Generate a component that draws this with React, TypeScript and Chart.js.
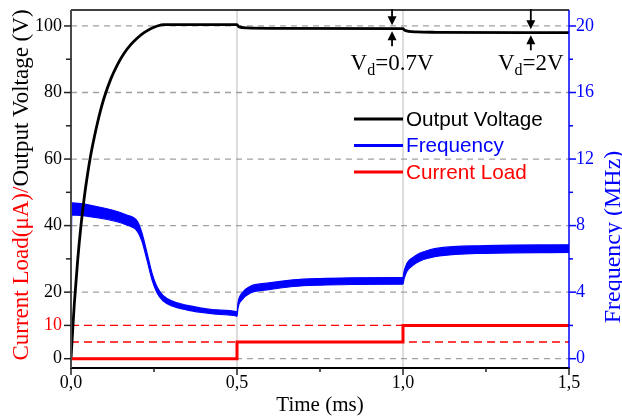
import React, { useEffect, useRef } from 'react';
import { Chart, registerables } from 'chart.js';

Chart.register(...registerables);

const SERIF = '"Liberation Serif", "Times New Roman", serif';
const SANS = '"Liberation Sans", Arial, sans-serif';

// ---- data (time in ms) ----
const voltTime = [0, 0.005, 0.01, 0.02, 0.03, 0.04, 0.05, 0.06, 0.07, 0.08, 0.09, 0.1, 0.12, 0.14, 0.16, 0.18, 0.2, 0.22, 0.24, 0.26, 0.28, 0.32, 0.5, 0.505, 0.53, 0.6, 1.0, 1.005, 1.04, 1.1, 1.5];
const voltage = [0, 8.5, 16.5, 29.5, 40, 48.5, 55.5, 61.5, 66.5, 71, 75, 78.5, 84.1, 88.4, 91.8, 94.4, 96.4, 98.0, 99.2, 100.0, 100.4, 100.4, 100.4, 99.8, 99.4, 99.3, 99.2, 98.7, 98.2, 98.1, 98.0];

const freqTime = [0, 0.002, 0.066, 0.168, 0.2, 0.213, 0.229, 0.244, 0.259, 0.277, 0.307, 0.367, 0.44, 0.497, 0.5, 0.503, 0.515, 0.539, 0.59, 0.669, 0.75, 0.85, 0.997, 1.0, 1.003, 1.012, 1.03, 1.05, 1.08, 1.11, 1.23, 1.5];
const freqUpper = [0, 9.36, 9.19, 8.64, 8.25, 7.6, 6.36, 5.14, 4.32, 3.8, 3.45, 3.14, 2.93, 2.83, 2.75, 3.35, 3.94, 4.34, 4.54, 4.74, 4.82, 4.86, 4.88, 4.88, 5.22, 5.74, 6.09, 6.34, 6.54, 6.66, 6.79, 6.85];
const freqLower = [0, 8.64, 8.51, 8.04, 7.65, 7.1, 5.92, 4.74, 3.96, 3.48, 3.15, 2.86, 2.67, 2.57, 2.55, 3.05, 3.54, 3.94, 4.14, 4.34, 4.42, 4.46, 4.48, 4.48, 4.78, 5.26, 5.61, 5.86, 6.06, 6.18, 6.33, 6.39];

const loadTime = [0, 0.5, 0.5, 1.0, 1.0, 1.5];
const loadValues = [0, 0, 5, 5, 10, 10];

const xTicks = [0, 0.5, 1.0, 1.5];
const xMinorTicks = [0.25, 0.75, 1.25];
const leftTicks = [0, 10, 20, 40, 60, 80, 100];
const leftMinorTicks = [30, 50, 70, 90];
const rightTicks = [0, 4, 8, 12, 16, 20];
const rightMinorTicks = [2, 6, 10, 14, 18];

const grayGrid = [0, 20, 40, 60, 80, 100];
const redGrid = [5, 10];
const vGrid = [0.5, 1.0];

const annotTime = [0.967, 1.385];
const annotVoltage = [99.3, 98.1];
const annotText = ['=0.7V', '=2V'];

const legendLabels = ['Output Voltage', 'Frequency', 'Current Load'];

const RED = '#ff0000';
const BLUE = '#0000ff';

function seg(ctx: CanvasRenderingContext2D, x1: number, y1: number, x2: number, y2: number) {
  ctx.beginPath();
  ctx.moveTo(x1, y1);
  ctx.lineTo(x2, y2);
  ctx.stroke();
}

function arrow(ctx: CanvasRenderingContext2D, x: number, yFrom: number, yTip: number) {
  const dir = yTip > yFrom ? 1 : -1;
  ctx.lineWidth = 1.8;
  seg(ctx, x, yFrom, x, yTip - dir * 6);
  ctx.beginPath();
  ctx.moveTo(x, yTip);
  ctx.lineTo(x - 4.5, yTip - dir * 9);
  ctx.lineTo(x + 4.5, yTip - dir * 9);
  ctx.closePath();
  ctx.fill();
}

const decorPlugin = {
  id: 'decor',
  beforeDatasetsDraw(chart: any) {
    const { ctx, chartArea: a, scales } = chart;
    const x = scales.x;
    const y = scales.y;
    ctx.save();
    ctx.strokeStyle = '#d2d2d2';
    ctx.lineWidth = 1.5;
    vGrid.forEach((t) => {
      const px = x.getPixelForValue(t);
      seg(ctx, px, a.top, px, a.bottom);
    });
    ctx.setLineDash([6, 5]);
    ctx.strokeStyle = '#a0a0a0';
    ctx.lineWidth = 1.3;
    grayGrid.forEach((v) => {
      const py = y.getPixelForValue(v);
      seg(ctx, a.left, py, a.right, py);
    });
    ctx.setLineDash([8, 5]);
    ctx.strokeStyle = RED;
    ctx.lineWidth = 1.4;
    redGrid.forEach((v) => {
      const py = y.getPixelForValue(v);
      seg(ctx, a.left, py, a.right, py);
    });
    ctx.restore();
  },
  afterDatasetsDraw(chart: any) {
    const { ctx, chartArea: a, scales } = chart;
    const x = scales.x;
    const y = scales.y;
    const y2 = scales.y2;
    ctx.save();
    ctx.setLineDash([]);
    // frame
    ctx.strokeStyle = '#000';
    ctx.lineWidth = 1.5;
    seg(ctx, a.left, a.top, a.right, a.top);
    ctx.lineWidth = 2;
    seg(ctx, a.left - 1, a.bottom, a.right + 1, a.bottom);
    ctx.strokeStyle = '#4a4a4a';
    seg(ctx, a.left, a.top, a.left, a.bottom);
    ctx.strokeStyle = BLUE;
    ctx.lineWidth = 1.5;
    seg(ctx, a.right, a.top, a.right, a.bottom);

    // ticks
    ctx.strokeStyle = '#222';
    ctx.lineWidth = 1.5;
    xTicks.forEach((t) => {
      const px = x.getPixelForValue(t);
      seg(ctx, px, a.bottom, px, a.bottom + 7);
    });
    xMinorTicks.forEach((t) => {
      const px = x.getPixelForValue(t);
      seg(ctx, px, a.bottom, px, a.bottom + 4);
    });
    leftTicks.forEach((v) => {
      const py = y.getPixelForValue(v);
      seg(ctx, a.left - 7, py, a.left, py);
    });
    leftMinorTicks.forEach((v) => {
      const py = y.getPixelForValue(v);
      seg(ctx, a.left - 5, py, a.left, py);
    });
    ctx.strokeStyle = BLUE;
    rightTicks.forEach((v) => {
      const py = y2.getPixelForValue(v);
      seg(ctx, a.right, py, a.right + 7, py);
    });
    rightMinorTicks.forEach((v) => {
      const py = y2.getPixelForValue(v);
      seg(ctx, a.right, py, a.right + 4, py);
    });

    // legend
    const datasets = chart.data.datasets;
    ctx.font = '20.7px ' + SANS;
    ctx.textBaseline = 'middle';
    ctx.textAlign = 'left';
    legendLabels.forEach((lab, i) => {
      const ds = datasets.find((d: any) => d.label === lab);
      const col = ds ? ds.borderColor : '#000';
      const ly = 119 + i * 26.5;
      ctx.strokeStyle = col;
      ctx.lineWidth = 3;
      seg(ctx, 354, ly, 403, ly);
      ctx.fillStyle = col;
      ctx.fillText(lab, 406, ly + 1);
    });

    // Vd annotations with arrows
    ctx.fillStyle = '#000';
    ctx.strokeStyle = '#000';
    annotTime.forEach((t, i) => {
      const px = x.getPixelForValue(t);
      const py = y.getPixelForValue(annotVoltage[i]);
      arrow(ctx, px, a.top - 1, py - 3);
      arrow(ctx, px, py + 18, py + 3);
      ctx.font = '23px ' + SERIF;
      const wV = ctx.measureText('V').width;
      const wRest = ctx.measureText(annotText[i]).width;
      ctx.font = '16px ' + SERIF;
      const wd = ctx.measureText('d').width;
      const total = wV + wd + wRest;
      let sx = px - total / 2;
      ctx.textBaseline = 'alphabetic';
      ctx.font = '23px ' + SERIF;
      ctx.fillText('V', sx, 70);
      sx += wV;
      ctx.font = '16px ' + SERIF;
      ctx.fillText('d', sx, 75);
      sx += wd;
      ctx.font = '23px ' + SERIF;
      ctx.fillText(annotText[i], sx, 70);
    });

    // axis titles
    ctx.textBaseline = 'alphabetic';
    ctx.textAlign = 'center';
    ctx.fillStyle = '#000';
    ctx.font = '21px ' + SERIF;
    ctx.fillText('Time (ms)', (a.left + a.right) / 2, 411);

    ctx.save();
    ctx.translate(28, 185);
    ctx.rotate(-Math.PI / 2);
    ctx.font = '23px ' + SERIF;
    ctx.textAlign = 'left';
    const p1 = 'Current Load(\u03bcA)/';
    const p2 = 'Output Voltage (V)';
    const w1 = ctx.measureText(p1).width;
    const w2 = ctx.measureText(p2).width;
    const start = -(w1 + w2) / 2;
    ctx.fillStyle = RED;
    ctx.fillText(p1, start, 0);
    ctx.fillStyle = '#000';
    ctx.fillText(p2, start + w1, 0);
    ctx.restore();

    ctx.save();
    ctx.translate(620, 237);
    ctx.rotate(-Math.PI / 2);
    ctx.font = '24px ' + SERIF;
    ctx.textAlign = 'center';
    ctx.fillStyle = BLUE;
    ctx.fillText('Frequency (MHz)', 0, 0);
    ctx.restore();

    ctx.restore();
  },
};

export default function App() {
  const ref = useRef<HTMLCanvasElement | null>(null);
  useEffect(() => {
    if (!ref.current) return;
    const pts = (xs: number[], ys: number[]) => xs.map((v, i) => ({ x: v, y: ys[i] }));
    const chart = new Chart(ref.current, {
      type: 'line',
      data: {
        datasets: [
          {
            label: 'Current Load',
            data: pts(loadTime, loadValues),
            borderColor: RED,
            borderWidth: 3,
            pointRadius: 0,
            fill: false,
            yAxisID: 'y',
          },
          {
            label: 'Output Voltage',
            data: pts(voltTime, voltage),
            borderColor: '#000000',
            borderWidth: 2.8,
            pointRadius: 0,
            fill: false,
            cubicInterpolationMode: 'monotone',
            yAxisID: 'y',
          },
          {
            label: 'Frequency',
            data: pts(freqTime, freqUpper),
            borderColor: BLUE,
            backgroundColor: BLUE,
            borderWidth: 1.2,
            pointRadius: 0,
            fill: '+1',
            cubicInterpolationMode: 'monotone',
            yAxisID: 'y2',
          },
          {
            label: 'Frequency band',
            data: pts(freqTime, freqLower),
            borderColor: BLUE,
            borderWidth: 1.2,
            pointRadius: 0,
            fill: false,
            cubicInterpolationMode: 'monotone',
            yAxisID: 'y2',
          },
        ],
      } as any,
      options: {
        animation: false,
        responsive: true,
        maintainAspectRatio: false,
        layout: { padding: { top: 10, left: 0, right: 0, bottom: 0 } },
        plugins: { legend: { display: false }, tooltip: { enabled: false } },
        scales: {
          x: {
            type: 'linear',
            min: 0,
            max: 1.5,
            grid: { display: false, drawTicks: false },
            border: { display: false },
            ticks: {
              font: { family: SERIF, size: 18 },
              color: '#000',
              padding: 4,
              maxRotation: 0,
              autoSkip: false,
              callback: (v: any) => Number(v).toFixed(1).replace('.', ','),
            },
            afterBuildTicks: (s: any) => {
              s.ticks = xTicks.map((v) => ({ value: v }));
            },
            afterFit: (s: any) => {
              s.height = 49;
              s.paddingLeft = 0;
              s.paddingRight = 0;
            },
          },
          y: {
            type: 'linear',
            position: 'left',
            min: -2.8,
            max: 104.8,
            grid: { display: false, drawTicks: false },
            border: { display: false },
            ticks: {
              font: { family: SERIF, size: 18 },
              color: (c: any) => (c.tick && c.tick.value === 10 ? RED : '#000'),
              padding: 9,
              autoSkip: false,
            },
            afterBuildTicks: (s: any) => {
              s.ticks = leftTicks.map((v) => ({ value: v }));
            },
            afterFit: (s: any) => {
              s.width = 71;
              s.paddingTop = 0;
              s.paddingBottom = 0;
            },
          },
          y2: {
            type: 'linear',
            position: 'right',
            min: -0.56,
            max: 20.96,
            grid: { display: false, drawTicks: false },
            border: { display: false },
            ticks: {
              font: { family: SERIF, size: 18 },
              color: BLUE,
              padding: 7,
              autoSkip: false,
            },
            afterBuildTicks: (s: any) => {
              s.ticks = rightTicks.map((v) => ({ value: v }));
            },
            afterFit: (s: any) => {
              s.width = 53;
              s.paddingTop = 0;
              s.paddingBottom = 0;
            },
          },
        },
      } as any,
      plugins: [decorPlugin as any],
    });
    return () => chart.destroy();
  }, []);
  return (
    <div style={{ position: 'fixed', left: 0, top: 0, width: 622, height: 417, background: '#fff' }}>
      <canvas ref={ref} />
    </div>
  );
}
